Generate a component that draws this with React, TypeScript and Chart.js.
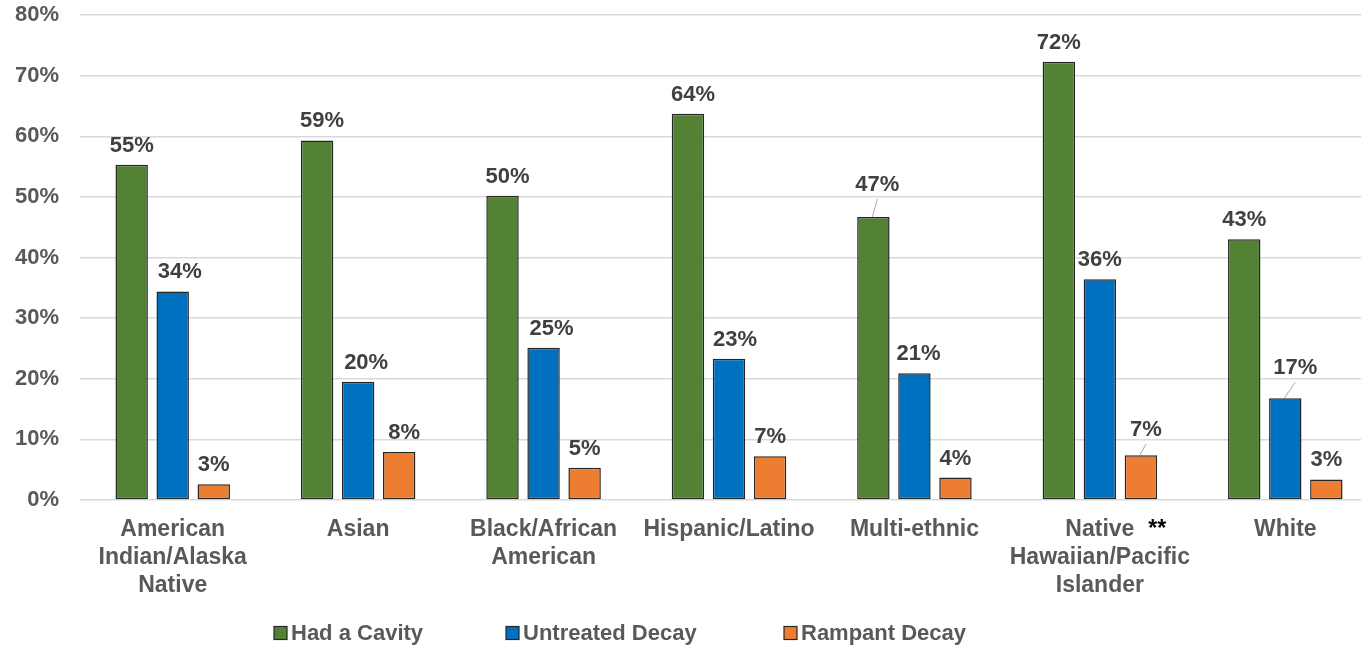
import React, { useEffect, useRef } from "react";
import { Chart, registerables } from "chart.js";

Chart.register(...registerables);

// ---- Data ----
const categories: string[][] = [
  ["American", "Indian/Alaska", "Native"],
  ["Asian"],
  ["Black/African", "American"],
  ["Hispanic/Latino"],
  ["Multi-ethnic"],
  ["Native", "Hawaiian/Pacific", "Islander"],
  ["White"],
];
const seriesNames = ["Had a Cavity", "Untreated Decay", "Rampant Decay"];
const hadCavity = [55.3, 59.3, 50.2, 63.7, 46.7, 72.3, 43.0];
const untreatedDecay = [34.4, 19.5, 25.1, 23.3, 20.9, 36.4, 16.8];
const rampantDecay = [2.6, 7.9, 5.3, 7.2, 3.7, 7.4, 3.4];
const yTickValues = [0, 10, 20, 30, 40, 50, 60, 70, 80];
const footnoteCategoryIndex = 5;
const footnoteMark = "**";

// ---- Styles ----
const FONT = "'Liberation Sans', Arial, sans-serif";
const COLORS = ["#548235", "#0070C0", "#ED7D31"];
const BORDER = "#262626";
const TICK_COLOR = "#595959";
const LABEL_COLOR = "#404040";
const GRID = "#d9d9d9";
const LEGEND_X = [274, 506, 784];

// label adjustments (dataset-index) -> pixel offset, with leader line
const labelAdjust: Record<string, { dx: number; dy: number; leader?: boolean }> = {
  "0-1": { dx: 5, dy: 0 },
  "0-2": { dx: 5, dy: 0 },
  "0-3": { dx: 5, dy: 0 },
  "0-4": { dx: 4, dy: -13, leader: true },
  "1-0": { dx: 7, dy: 0 },
  "1-1": { dx: 8, dy: 0 },
  "1-2": { dx: 8, dy: 0 },
  "1-3": { dx: 6, dy: 0 },
  "1-4": { dx: 4, dy: 0 },
  "1-6": { dx: 10, dy: -11, leader: true },
  "2-1": { dx: 5, dy: 0 },
  "2-5": { dx: 5, dy: -6, leader: true },
};

const labelPlugin = {
  id: "customLabels",
  afterDatasetsDraw(chart: any) {
    const ctx = chart.ctx;
    ctx.save();
    ctx.font = `bold 22px ${FONT}`;
    ctx.textAlign = "center";
    ctx.textBaseline = "alphabetic";
    chart.data.datasets.forEach((ds: any, di: number) => {
      const meta = chart.getDatasetMeta(di);
      meta.data.forEach((el: any, i: number) => {
        const v = ds.data[i];
        const adj = labelAdjust[`${di}-${i}`] || { dx: 0, dy: 0 };
        const tx = el.x + adj.dx;
        const ty = el.y - 13 + adj.dy;
        if (adj.leader) {
          ctx.strokeStyle = "#a6a6a6";
          ctx.lineWidth = 1;
          ctx.beginPath();
          ctx.moveTo(tx, ty + 8);
          ctx.lineTo(el.x - 1, el.y);
          ctx.stroke();
        }
        ctx.fillStyle = LABEL_COLOR;
        ctx.fillText(`${Math.round(v)}%`, tx, ty);
      });
    });
    ctx.restore();
  },
  afterDraw(chart: any) {
    const ctx = chart.ctx;
    ctx.save();
    // footnote mark next to category label
    const xs = chart.scales.x;
    const cx = xs.getPixelForValue(footnoteCategoryIndex);
    ctx.font = `bold 23px ${FONT}`;
    const first = categories[footnoteCategoryIndex][0];
    const w = ctx.measureText(first).width;
    ctx.fillStyle = "#000000";
    ctx.textAlign = "left";
    ctx.textBaseline = "top";
    ctx.fillText(footnoteMark, cx + w / 2 + 14, 518);
    // legend
    const yc = 633;
    ctx.font = `bold 22px ${FONT}`;
    ctx.textBaseline = "middle";
    chart.data.datasets.forEach((ds: any, di: number) => {
      const x = LEGEND_X[di];
      ctx.fillStyle = COLORS[di];
      ctx.fillRect(x, yc - 6.5, 13, 13);
      ctx.strokeStyle = BORDER;
      ctx.lineWidth = 1.2;
      ctx.strokeRect(x, yc - 6.5, 13, 13);
      ctx.fillStyle = TICK_COLOR;
      ctx.textAlign = "left";
      ctx.fillText(ds.label, x + 17, yc + 1);
    });
    ctx.restore();
  },
};

export default function App() {
  const ref = useRef<HTMLCanvasElement>(null);
  useEffect(() => {
    document.body.style.overflow = "hidden";
    const series = [hadCavity, untreatedDecay, rampantDecay];
    const chart = new Chart(ref.current as HTMLCanvasElement, {
      type: "bar",
      data: {
        labels: categories as any,
        datasets: series.map((d, i) => ({
          label: seriesNames[i],
          data: d,
          backgroundColor: COLORS[i],
          borderColor: BORDER,
          borderWidth: 1.5,
          borderSkipped: false,
          barPercentage: 0.79,
          categoryPercentage: 0.664,
        })),
      },
      options: {
        animation: false,
        responsive: true,
        maintainAspectRatio: false,
        devicePixelRatio: 1,
        layout: { padding: { top: 15, left: 0, right: 0, bottom: 0 } },
        plugins: { legend: { display: false }, tooltip: { enabled: false } },
        scales: {
          x: {
            grid: { display: false, drawTicks: false },
            border: { display: false },
            ticks: {
              font: { family: FONT, size: 23, weight: "bold", lineHeight: 1.22 },
              color: TICK_COLOR,
              padding: 16,
              maxRotation: 0,
              autoSkip: false,
            },
            afterFit(scale: any) {
              scale.height = 145;
            },
          },
          y: {
            min: 0,
            max: 80,
            afterBuildTicks(scale: any) {
              scale.ticks = yTickValues.map((v) => ({ value: v }));
            },
            grid: { color: GRID, lineWidth: 1.5, drawTicks: false },
            border: { display: false },
            ticks: {
              font: { family: FONT, size: 22, weight: "bold" },
              color: TICK_COLOR,
              padding: 21,
              callback: (v: any) => `${v}%`,
            },
            afterFit(scale: any) {
              scale.width = 80;
              scale.paddingTop = 0;
              scale.paddingBottom = 0;
            },
          },
        },
      },
      plugins: [labelPlugin],
    });
    return () => chart.destroy();
  }, []);
  return (
    <div style={{ position: "fixed", left: 0, top: 0, width: 1378, height: 645, background: "#fff" }}>
      <canvas ref={ref} />
    </div>
  );
}
